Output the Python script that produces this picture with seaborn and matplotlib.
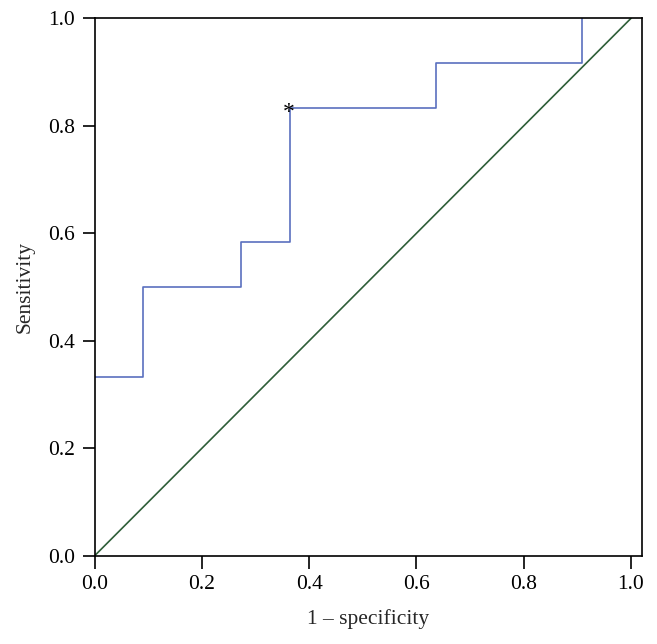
import matplotlib
matplotlib.use("Agg")
import matplotlib.pyplot as plt
import seaborn as sns
import pandas as pd

# ROC points (1 - specificity, sensitivity)
fpr = [0.0, 1/11, 3/11, 4/11, 7/11, 10/11]
tpr = [4/12, 6/12, 7/12, 10/12, 11/12, 12/12]
diag = [0.0, 1.0]
cut_x = 4/11
cut_y = 10/12
xticks = [0.0, 0.2, 0.4, 0.6, 0.8, 1.0]
yticks = [0.0, 0.2, 0.4, 0.6, 0.8, 1.0]

sns.set_theme(style="white")
plt.rcParams['font.family'] = ['Liberation Serif', 'DejaVu Serif']

fig = plt.figure(figsize=(6.57, 6.44), dpi=100)
ax = fig.add_axes([0.1441, 0.1371, 0.8331, 0.8345])

df = pd.DataFrame({"fpr": fpr, "tpr": tpr})
sns.lineplot(data=df, x="fpr", y="tpr", ax=ax, color="#5a70bf",
             linewidth=1.2, drawstyle="steps-post")
sns.lineplot(x=diag, y=diag, ax=ax, color="#2e5e38", linewidth=1.2)
ax.annotate("*", xy=(cut_x, cut_y), xytext=(3.5, -7), textcoords="offset points",
            ha="right", va="baseline", fontsize=17, color="black")

ax.set_xlim(0, 1.0205)
ax.set_ylim(0, 1.0)
ax.set_xticks(xticks)
ax.set_yticks(yticks)
ax.set_xticklabels([f"{v:.1f}" for v in xticks])
ax.set_yticklabels([f"{v:.1f}" for v in yticks])
ax.tick_params(direction="out", length=9, width=1.2, colors="black",
               labelsize=15.5, pad=5, bottom=True, left=True)
for s in ax.spines.values():
    s.set_color("black")
    s.set_linewidth(1.2)
ax.set_xlabel("1 \u2013 specificity", fontsize=15.5, labelpad=11)
ax.set_ylabel("Sensitivity", fontsize=15.5, labelpad=10)

fig.savefig("out.png", dpi=100)
